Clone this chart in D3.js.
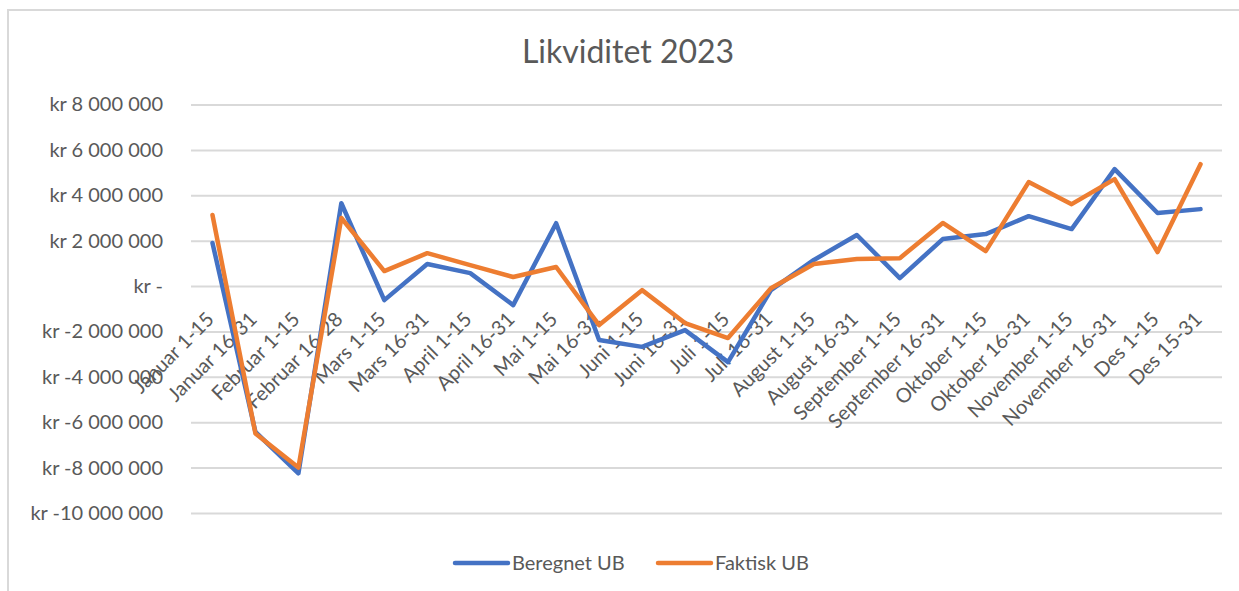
<!DOCTYPE html>
<html>
<head>
<meta charset="utf-8">
<script src="https://cdn.jsdelivr.net/npm/d3@7"></script>
<style>
  body { margin: 0; background: #fff; }
  svg text { font-family: Lato, "Open Sans", sans-serif; fill: #595959; }
</style>
</head>
<body>
<div id="chart"></div>
<script>
var width = 1239;
var height = 591;

var categories = [
    "Januar 1-15", "Januar 16-31", "Februar 1-15", "Februar 16-28",
    "Mars 1-15", "Mars 16-31", "April 1-15", "April 16-31",
    "Mai 1-15", "Mai 16-31", "Juni 1-15", "Juni 16-31",
    "Juli 1-15", "Juli 16-31", "August 1-15", "August 16-31",
    "September 1-15", "September 16-31", "Oktober 1-15", "Oktober 16-31",
    "November 1-15", "November 16-31", "Des 1-15", "Des 15-31"
];

// values in kr
var beregnetUB = [
    1900000, -6430000, -8250000, 3650000,
    -620000, 970000, 570000, -840000,
    2770000, -2380000, -2680000, -1940000,
    -3350000, -180000, 1150000, 2250000,
    350000, 2070000, 2290000, 3080000,
    2510000, 5150000, 3220000, 3390000
];
var faktiskUB = [
    3130000, -6500000, -8000000, 3000000,
    660000, 1450000, 920000, 400000,
    840000, -1720000, -180000, -1630000,
    -2290000, -100000, 970000, 1190000,
    1230000, 2780000, 1540000, 4580000,
    3610000, 4710000, 1500000, 5370000
];

var yTicks = [8000000, 6000000, 4000000, 2000000, 0, -2000000, -4000000, -6000000, -8000000, -10000000];

var seriesNames = ["Beregnet UB", "Faktisk UB"];
var seriesColors = ["#4472C4", "#ED7D31"];

var svg = d3.select("#chart").append("svg")
    .attr("width", width)
    .attr("height", height);

// chart frame (only top/left visible in the crop)
svg.append("rect")
    .attr("x", 8).attr("y", 10)
    .attr("width", 1300).attr("height", 700)
    .attr("fill", "none")
    .attr("stroke", "#d9d9d9")
    .attr("stroke-width", 2);

svg.append("text")
    .attr("x", 628).attr("y", 63)
    .attr("text-anchor", "middle")
    .style("font-size", "32px")
    .text("Likviditet 2023");

var x = d3.scalePoint()
    .domain(categories)
    .range([191, 1222])
    .padding(0.5);

var y = d3.scaleLinear()
    .domain([-10000000, 8000000])
    .range([513, 104.5]);

function fmtKr(v) {
    if (v === 0) return "kr -";
    var s = d3.format(",")(Math.abs(v)).replace(/,/g, " ");
    return "kr " + (v < 0 ? "-" : "") + s;
}

var yAxis = d3.axisLeft(y)
    .tickValues(yTicks)
    .tickSize(-(1222 - 191))
    .tickPadding(28)
    .tickFormat(fmtKr);

var gy = svg.append("g")
    .attr("transform", "translate(191,0)")
    .call(yAxis);
gy.select(".domain").remove();
gy.selectAll(".tick line")
    .attr("stroke", "#d9d9d9")
    .attr("stroke-width", 2);
gy.selectAll(".tick text")
    .style("font-size", "20px")
    .attr("fill", "#595959");

// category labels, rotated below the zero line
svg.append("g").selectAll("text")
    .data(categories)
    .enter().append("text")
    .attr("transform", d => "translate(" + (x(d) - 3) + "," + 315 + ") rotate(-45)")
    .attr("text-anchor", "end")
    .attr("dominant-baseline", "central")
    .style("font-size", "20px")
    .text(d => d);

var line = d3.line()
    .x((d, i) => x(categories[i]))
    .y(d => y(d));

[beregnetUB, faktiskUB].forEach(function (vals, k) {
    svg.append("path")
        .datum(vals)
        .attr("d", line)
        .attr("fill", "none")
        .attr("stroke", seriesColors[k])
        .attr("stroke-width", 4.5)
        .attr("stroke-linejoin", "round")
        .attr("stroke-linecap", "round");
});

// legend
var legendX = [455, 658];
var legend = svg.append("g").selectAll("g")
    .data(seriesNames)
    .enter().append("g")
    .attr("transform", (d, i) => "translate(" + legendX[i] + ",563)");
legend.append("line")
    .attr("x1", 0).attr("x2", 53)
    .attr("stroke", (d, i) => seriesColors[i])
    .attr("stroke-width", 4.5)
    .attr("stroke-linecap", "round");
legend.append("text")
    .attr("x", 57)
    .attr("dy", "0.35em")
    .style("font-size", "20px")
    .text(d => d);
</script>
</body>
</html>
